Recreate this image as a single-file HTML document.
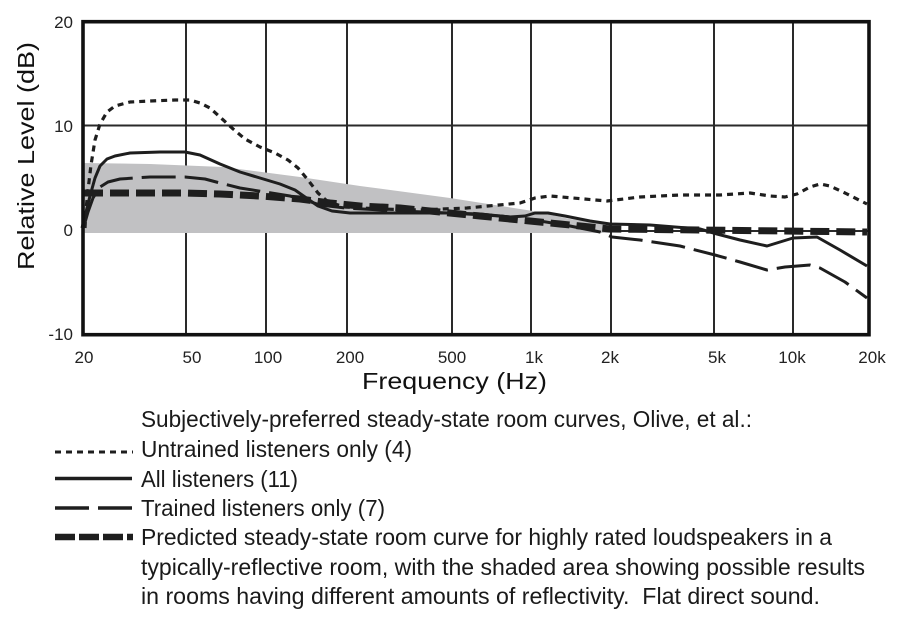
<!DOCTYPE html>
<html>
<head>
<meta charset="utf-8">
<style>
html,body{margin:0;padding:0;background:#fff;}
svg{display:block;}
</style>
</head>
<body>
<svg width="900" height="629" viewBox="0 0 900 629" xmlns="http://www.w3.org/2000/svg">
  <rect width="900" height="629" fill="#fff"/>
  <!-- grid -->
  <g stroke="#2a2a2a" stroke-width="2" fill="none">
    <line x1="186" y1="22" x2="186" y2="334"/>
    <line x1="266" y1="22" x2="266" y2="334"/>
    <line x1="347" y1="22" x2="347" y2="334"/>
    <line x1="452" y1="22" x2="452" y2="334"/>
    <line x1="531" y1="22" x2="531" y2="334"/>
    <line x1="611" y1="22" x2="611" y2="334"/>
    <line x1="714" y1="22" x2="714" y2="334"/>
    <line x1="793" y1="22" x2="793" y2="334"/>
    <line x1="83" y1="125.5" x2="869" y2="125.5"/>
    <line x1="83" y1="231" x2="869" y2="231"/>
  </g>
  <!-- shaded area -->
  <polygon fill="#c1c1c3" points="84,163 150,164 223,167 300,177 360,186 450,198 533,211 570,219 610,225 610,233 84,233"/>
  <!-- curves -->
  <g fill="none" stroke="#1e1e1e" stroke-linejoin="round">
    <polyline stroke-width="3.2" stroke-dasharray="6,5" points="85,228 86,210 88,190 91,165 95,140 100,124 107,112 115,106 130,102 150,101 175,100 190,100 200,103 210,108 220,117 232,128 245,139 260,147 275,153 288,160 298,168 308,180 318,193 328,202 345,207 380,209 420,210 467,208 520,203 535,198 550,196 573,198 607,201 640,197 680,195 720,195 750,193 770,196 785,197 797,194 810,187 820,184 830,186 845,193 867,204"/>
    <polyline stroke-width="3" points="82,228 86,212 90,196 95,178 100,166 107,159 115,156 130,153 160,152 185,152 200,155 220,164 240,172 260,178 280,184 295,190 305,197 318,206 332,211 350,213 400,213 450,213 480,214 510,217 525,216 535,213 548,213 565,216 590,221 610,224 650,225 700,229 717,234 740,240 767,246 780,242 793,238 817,237 840,250 867,266"/>
    <polyline stroke-width="3" stroke-dasharray="34,9" points="84,226 88,212 93,198 100,187 108,182 120,179 150,177 185,177 205,179 220,183 240,188 265,192 290,196 305,200 320,205 345,208 400,211 450,213 500,216 540,221 570,226 600,232 612,237 640,240 680,246 715,255 740,262 767,270 785,267 810,265 820,268 845,282 867,298"/>
    <polyline stroke-width="7" stroke-dasharray="19,7" points="84,193 150,193 185,193 220,194 260,196 300,199 330,203 360,206 400,208 440,212 480,216 520,220 560,224 590,227 610,229 700,230 867,232"/>
  </g>
  <!-- frame -->
  <rect x="83" y="21.7" width="786" height="313" fill="none" stroke="#111" stroke-width="3.6"/>
  <!-- y tick labels -->
  <g font-family="Liberation Sans, Arial, sans-serif" font-size="17" fill="#222" text-anchor="end">
    <text x="73" y="28">20</text>
    <text x="73" y="132">10</text>
    <text x="73" y="236">0</text>
    <text x="73" y="340">-10</text>
  </g>
  <!-- x tick labels -->
  <g font-family="Liberation Sans, Arial, sans-serif" font-size="17" fill="#222" text-anchor="middle">
    <text x="84" y="363">20</text>
    <text x="192" y="363">50</text>
    <text x="268" y="363">100</text>
    <text x="350" y="363">200</text>
    <text x="452" y="363">500</text>
    <text x="534" y="363">1k</text>
    <text x="610" y="363">2k</text>
    <text x="717" y="363">5k</text>
    <text x="792" y="363">10k</text>
    <text x="872" y="363">20k</text>
  </g>
  <!-- axis titles -->
  <text x="362" y="389" font-family="Liberation Sans, Arial, sans-serif" font-size="23.5" fill="#111" textLength="185" lengthAdjust="spacingAndGlyphs">Frequency (Hz)</text>
  <text transform="translate(34,156) rotate(-90)" text-anchor="middle" font-family="Liberation Sans, Arial, sans-serif" font-size="23.5" fill="#111" textLength="228" lengthAdjust="spacingAndGlyphs">Relative Level (dB)</text>
  <!-- legend swatches -->
  <g fill="none" stroke="#1e1e1e">
    <line x1="55" y1="452" x2="133" y2="452" stroke-width="3" stroke-dasharray="6,5"/>
    <line x1="55" y1="478.5" x2="132" y2="478.5" stroke-width="3.5"/>
    <line x1="55" y1="508" x2="132" y2="508" stroke-width="3.5" stroke-dasharray="34,9"/>
    <line x1="55" y1="537" x2="133" y2="537" stroke-width="6.5" stroke-dasharray="20,4"/>
  </g>
  <!-- legend text -->
  <g font-family="Liberation Sans, Arial, sans-serif" font-size="23" fill="#1a1a1a">
    <text x="141" y="427" textLength="611" lengthAdjust="spacingAndGlyphs">Subjectively-preferred steady-state room curves, Olive, et al.:</text>
    <text x="141" y="457" textLength="271" lengthAdjust="spacingAndGlyphs">Untrained listeners only (4)</text>
    <text x="141" y="487" textLength="157" lengthAdjust="spacingAndGlyphs">All listeners (11)</text>
    <text x="141" y="516" textLength="244" lengthAdjust="spacingAndGlyphs">Trained listeners only (7)</text>
    <text x="141" y="545" textLength="691" lengthAdjust="spacingAndGlyphs">Predicted steady-state room curve for highly rated loudspeakers in a</text>
    <text x="141" y="575" textLength="724" lengthAdjust="spacingAndGlyphs">typically-reflective room, with the shaded area showing possible results</text>
    <text x="141" y="604" textLength="679" lengthAdjust="spacingAndGlyphs">in rooms having different amounts of reflectivity.&#160; Flat direct sound.</text>
  </g>
</svg>
</body>
</html>
